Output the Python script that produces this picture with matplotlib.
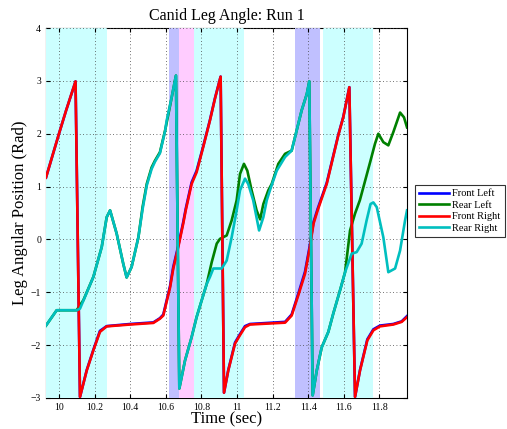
import matplotlib
matplotlib.use("Agg")
import matplotlib.pyplot as plt

plt.rcParams["font.family"] = ["Liberation Serif", "DejaVu Serif"]

# --- data --------------------------------------------------------------------
front_right_t = [9.927, 10.0, 10.04, 10.093, 10.118, 10.156, 10.193, 10.23, 10.268,
                 10.4, 10.53, 10.567, 10.586, 10.624, 10.642, 10.67, 10.698, 10.712,
                 10.745, 10.773, 10.81, 10.848, 10.876, 10.908, 10.927, 10.951, 10.989,
                 11.017, 11.045, 11.073, 11.27, 11.307, 11.344, 11.382, 11.406, 11.43,
                 11.453, 11.504, 11.569, 11.597, 11.631, 11.663, 11.691, 11.732, 11.766,
                 11.803, 11.878, 11.925, 11.955]
front_right = [1.17, 2.0, 2.44, 2.99, -2.98, -2.48, -2.10, -1.75, -1.645,
               -1.61, -1.58, -1.50, -1.44, -0.91, -0.55, -0.145, 0.30, 0.55,
               1.05, 1.27, 1.745, 2.25, 2.66, 3.08, -2.90, -2.48, -1.97,
               -1.81, -1.66, -1.61, -1.575, -1.44, -1.06, -0.65, -0.21, 0.30,
               0.55, 1.05, 1.97, 2.31, 2.88, -2.98, -2.48, -1.91, -1.72,
               -1.645, -1.61, -1.56, -1.47]

front_left_t = front_right_t
front_left = [1.17, 2.0, 2.44, 2.99, -2.98, -2.47, -2.09, -1.73, -1.64,
              -1.60, -1.57, -1.49, -1.42, -0.88, -0.52, -0.12, 0.33, 0.58,
              1.08, 1.30, 1.76, 2.26, 2.67, 3.08, -2.90, -2.47, -1.95,
              -1.79, -1.64, -1.60, -1.56, -1.42, -1.03, -0.61, -0.17, 0.33,
              0.58, 1.07, 1.98, 2.32, 2.88, -2.98, -2.47, -1.89, -1.70,
              -1.63, -1.60, -1.55, -1.45]

rear_left_t = [9.927, 9.987, 10.099, 10.137, 10.193, 10.24, 10.268, 10.287, 10.324,
               10.361, 10.38, 10.408, 10.446, 10.47, 10.493, 10.52, 10.539, 10.567,
               10.596, 10.624, 10.657, 10.676, 10.708, 10.745, 10.773, 10.81, 10.83,
               10.858, 10.886, 10.904, 10.942, 10.97, 10.998, 11.017, 11.039, 11.058,
               11.082, 11.11, 11.13, 11.148, 11.176, 11.195, 11.232, 11.27, 11.307,
               11.335, 11.363, 11.392, 11.406, 11.425, 11.448, 11.476, 11.513, 11.541,
               11.579, 11.607, 11.635, 11.663, 11.69, 11.71, 11.75, 11.775, 11.794,
               11.822, 11.85, 11.878, 11.916, 11.938, 11.955]
rear_left = [-1.63, -1.34, -1.34, -1.15, -0.71, -0.145, 0.42, 0.55, 0.11,
             -0.46, -0.72, -0.52, 0.04, 0.62, 1.05, 1.36, 1.49, 1.65,
             2.06, 2.53, 3.10, -2.82, -2.29, -1.85, -1.47, -1.06, -0.84,
             -0.43, -0.08, 0.01, 0.075, 0.36, 0.74, 1.24, 1.43, 1.30,
             0.93, 0.55, 0.38, 0.67, 0.93, 1.05, 1.43, 1.62, 1.68,
             2.06, 2.44, 2.75, 2.99, -2.95, -2.48, -2.04, -1.75, -1.40,
             -0.96, -0.62, 0.17, 0.49, 0.74, 0.99, 1.49, 1.81, 2.0,
             1.84, 1.78, 2.03, 2.40, 2.31, 2.12]

rear_right_t = [9.927, 9.987, 10.099, 10.118, 10.193, 10.24, 10.268, 10.287, 10.324,
                10.361, 10.38, 10.408, 10.446, 10.47, 10.493, 10.52, 10.539, 10.567,
                10.596, 10.605, 10.633, 10.657, 10.676, 10.708, 10.745, 10.773, 10.81,
                10.83, 10.848, 10.867, 10.914, 10.942, 10.97, 10.998, 11.017, 11.045,
                11.063, 11.091, 11.124, 11.148, 11.167, 11.185, 11.223, 11.27, 11.307,
                11.335, 11.363, 11.392, 11.406, 11.425, 11.448, 11.476, 11.513, 11.541,
                11.579, 11.607, 11.644, 11.672, 11.70, 11.728, 11.75, 11.766, 11.785,
                11.822, 11.85, 11.888, 11.916, 11.944, 11.955]
rear_right = [-1.63, -1.34, -1.34, -1.31, -0.71, -0.145, 0.42, 0.55, 0.11,
              -0.46, -0.72, -0.52, 0.04, 0.58, 1.02, 1.33, 1.47, 1.63,
              2.05, 2.25, 2.69, 3.10, -2.82, -2.29, -1.85, -1.47, -1.06,
              -0.84, -0.71, -0.55, -0.55, -0.40, 0.04, 0.55, 0.93, 1.15,
              1.05, 0.74, 0.17, 0.42, 0.74, 0.93, 1.30, 1.56, 1.68,
              2.06, 2.44, 2.75, 2.99, -2.95, -2.48, -2.04, -1.75, -1.40,
              -0.96, -0.62, -0.27, -0.24, -0.08, 0.36, 0.67, 0.70, 0.61,
              0.04, -0.62, -0.55, -0.21, 0.36, 0.55]

# shaded phases (start, end, colour)
band_start = [9.927, 10.617, 10.674, 10.757, 11.326, 11.483]
band_end = [10.27, 10.674, 10.757, 11.04, 11.466, 11.764]
band_color = ["#ccffff", "#c0c0ff", "#ffccff", "#ccffff", "#c0c0ff", "#ccffff"]

fig = plt.figure(figsize=(5.07, 4.29), dpi=100)
ax = fig.add_axes([0.0907, 0.0723, 0.7121, 0.8624])

for s, e, c in zip(band_start, band_end, band_color):
    ax.axvspan(s, e, color=c, lw=0, zorder=1)

ax.plot(front_left_t, front_left, color="#0000ff", lw=1.9, label="Front Left", zorder=3)
ax.plot(rear_left_t, rear_left, color="#008000", lw=1.9, label="Rear Left", zorder=3)
ax.plot(front_right_t, front_right, color="#ff0000", lw=1.9, label="Front Right", zorder=4)
ax.plot(rear_right_t, rear_right, color="#00bfbf", lw=1.9, label="Rear Right", zorder=4)

ax.set_xlim(9.927, 11.955)
ax.set_ylim(-3, 4)
ax.set_xticks([10, 10.2, 10.4, 10.6, 10.8, 11, 11.2, 11.4, 11.6, 11.8])
ax.set_xticklabels(["10", "10.2", "10.4", "10.6", "10.8", "11", "11.2", "11.4", "11.6", "11.8"])
ax.set_yticks(range(-3, 5))
ax.tick_params(direction="in", labelsize=7, length=3, top=True, right=True)
ax.grid(True, color="#444444", linestyle=(0, (1, 3)), lw=0.6)
for sp in ax.spines.values():
    sp.set_zorder(0.5)

ax.set_title("Canid Leg Angle: Run 1", fontsize=11.5, pad=6)
ax.set_xlabel("Time (sec)", fontsize=12, labelpad=0)
ax.set_ylabel("Leg Angular Position (Rad)", fontsize=12, labelpad=2)

leg = fig.legend(loc="upper left", bbox_to_anchor=(0.8185, 0.5688), borderaxespad=0,
                 fontsize=7.5, frameon=True, fancybox=False, edgecolor="black",
                 borderpad=0.4, labelspacing=0.2, handlelength=2.9, handletextpad=0.3)
leg.get_frame().set_linewidth(0.8)

fig.savefig("out.png", dpi=100)
